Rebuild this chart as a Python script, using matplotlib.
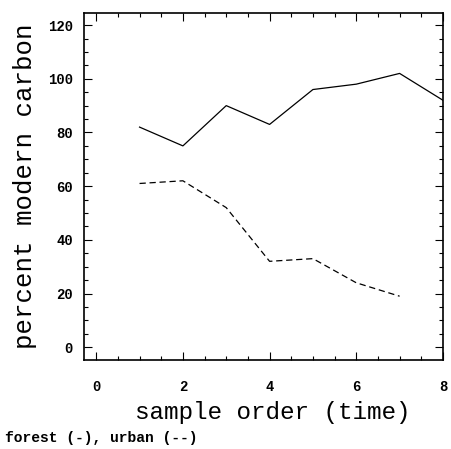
import numpy as np
import matplotlib
matplotlib.use("Agg")
import matplotlib.pyplot as plt
from matplotlib.ticker import MultipleLocator

# data
order_forest = [1, 2, 3, 4, 5, 6, 7, 8]
forest = [82, 75, 90, 83, 96, 98, 102, 92]
order_urban = [1, 2, 3, 4, 5, 6, 7]
urban = [61, 62, 52, 32, 33, 24, 19]

mono = "Liberation Mono"

fig = plt.figure(figsize=(4.52, 4.49), dpi=100)
ax = fig.add_axes([0.186, 0.198, 0.794, 0.773])

ax.plot(order_forest, forest, color="black", lw=0.9)
ax.plot(order_urban, urban, color="black", lw=0.9, linestyle=(0, (5, 3)))

ax.set_xlim(-0.28, 8.0)
ax.set_ylim(-4.8, 124.5)

ax.xaxis.set_major_locator(MultipleLocator(2))
ax.xaxis.set_minor_locator(MultipleLocator(0.5))
ax.yaxis.set_major_locator(MultipleLocator(20))
ax.yaxis.set_minor_locator(MultipleLocator(5))

ax.tick_params(which="both", direction="in", top=True, right=True, width=0.8)
ax.tick_params(which="major", length=6)
ax.tick_params(which="minor", length=3)
ax.tick_params(axis="x", pad=14)
ax.tick_params(axis="y", pad=8)

for lab in ax.get_xticklabels() + ax.get_yticklabels():
    lab.set_fontfamily(mono)
    lab.set_fontweight("bold")
    lab.set_fontsize(10)

for s in ax.spines.values():
    s.set_linewidth(1.2)

ax.set_xlabel("sample order (time)", fontfamily=mono, fontsize=17.5)
ax.xaxis.set_label_coords(0.527, -0.118)
ax.set_ylabel("percent modern carbon", fontfamily=mono, fontsize=18.5, labelpad=8)

fig.text(0.01, 0.025, "forest (-), urban (--)", fontfamily=mono,
         fontweight="bold", fontsize=10.5, ha="left", va="center")

fig.savefig("out.png", dpi=100)
